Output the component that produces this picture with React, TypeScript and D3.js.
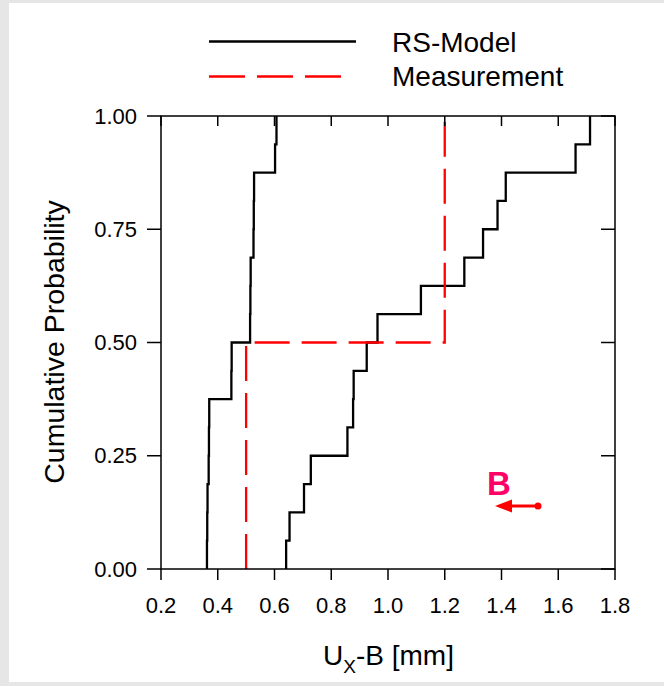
import React from "react";
import * as d3 from "d3";

const modelA = [0.362, 0.363, 0.364, 0.368, 0.369, 0.370, 0.448, 0.449, 0.514, 0.515, 0.516, 0.526, 0.527, 0.528, 0.602, 0.607];
const modelB = [0.641, 0.653, 0.704, 0.728, 0.857, 0.877, 0.879, 0.925, 0.963, 1.116, 1.269, 1.335, 1.386, 1.415, 1.661, 1.712];
const measurement = [0.5, 1.2];
const xTicks = [0.2, 0.4, 0.6, 0.8, 1.0, 1.2, 1.4, 1.6, 1.8];
const yTicks = [0, 0.25, 0.5, 0.75, 1.0];
const legendLabels = ["RS-Model", "Measurement"];

const W = 664;
const H = 686;
const FONT = "'Liberation Sans', Arial, Helvetica, sans-serif";

function ecdf(samples: number[]): [number, number][] {
  const s = [...samples].sort((a, b) => a - b);
  const n = s.length;
  const pts: [number, number][] = [[s[0], 0]];
  s.forEach((v, i) => {
    if (i > 0) pts.push([v, i / n]);
    pts.push([v, (i + 1) / n]);
  });
  return pts;
}

export default function App() {
  const x = d3.scaleLinear().domain([0.2, 1.8]).range([161, 615]);
  const y = d3.scaleLinear().domain([0, 1]).range([569, 116]);
  const line = d3
    .line<[number, number]>()
    .x((d) => x(d[0]))
    .y((d) => y(d[1]));

  const x0 = x(0.2), x1 = x(1.8), y0 = y(0), y1 = y(1);

  return (
    <svg
      width={W}
      height={H}
      style={{ position: "absolute", left: 0, top: 0, display: "block" }}
      fontFamily={FONT}
    >
      <rect x={0} y={0} width={W} height={H} fill="#e6e6e6" />
      <rect x={9} y={3} width={W - 9} height={679} fill="#ffffff" />

      {/* legend */}
      <line x1={209} x2={356} y1={41.5} y2={41.5} stroke="#000" strokeWidth={2.3} />
      <line x1={209} x2={342} y1={76.5} y2={76.5} stroke="#ff0000" strokeWidth={2.3} strokeDasharray="36 12" />
      <text x={392} y={52} fontSize={28} fill="#000">{legendLabels[0]}</text>
      <text x={392} y={86} fontSize={28} fill="#000">{legendLabels[1]}</text>

      {/* data */}
      <path d={line(ecdf(modelA)) || ""} fill="none" stroke="#000" strokeWidth={2.3} />
      <path d={line(ecdf(modelB)) || ""} fill="none" stroke="#000" strokeWidth={2.3} />
      <path d={line(ecdf(measurement)) || ""} fill="none" stroke="#ff0000" strokeWidth={2.3} strokeDasharray="35 12" />

      {/* frame */}
      <rect x={x0} y={y1} width={x1 - x0} height={y0 - y1} fill="none" stroke="#000" strokeWidth={1.5} />

      {/* x ticks */}
      {xTicks.map((t) => (
        <g key={"x" + t}>
          <line x1={x(t)} x2={x(t)} y1={y0} y2={y0 + 11} stroke="#000" strokeWidth={1.5} />
          <line x1={x(t)} x2={x(t)} y1={y1} y2={y1 + 10} stroke="#000" strokeWidth={1.5} />
          <text x={x(t)} y={613} fontSize={22} textAnchor="middle" fill="#000">
            {t.toFixed(1)}
          </text>
        </g>
      ))}

      {/* y ticks */}
      {yTicks.map((t) => (
        <g key={"y" + t}>
          <line x1={x0 - 14} x2={x0} y1={y(t)} y2={y(t)} stroke="#000" strokeWidth={1.5} />
          <line x1={x1 - 14} x2={x1} y1={y(t)} y2={y(t)} stroke="#000" strokeWidth={1.5} />
          <text x={137} y={y(t)} dy="0.35em" fontSize={22} textAnchor="end" fill="#000">
            {t.toFixed(2)}
          </text>
        </g>
      ))}

      {/* axis titles */}
      <text transform="translate(64,342) rotate(-90)" fontSize={28.5} textAnchor="middle" fill="#000">
        Cumulative Probability
      </text>
      <text x={323} y={665} fontSize={28} fill="#000">
        U
        <tspan fontSize={19} dy={8}>X</tspan>
        <tspan dy={-8}>-B [mm]</tspan>
      </text>

      {/* annotation */}
      <text x={487} y={494.5} fontSize={33} fontWeight="bold" fill="#ff0066">B</text>
      <line x1={508} x2={538} y1={506} y2={506} stroke="#ff0000" strokeWidth={3} />
      <path d="M495,506 L512,499.5 L512,512.5 Z" fill="#ff0000" />
      <circle cx={538} cy={506} r={3.5} fill="#ff0000" />
    </svg>
  );
}
